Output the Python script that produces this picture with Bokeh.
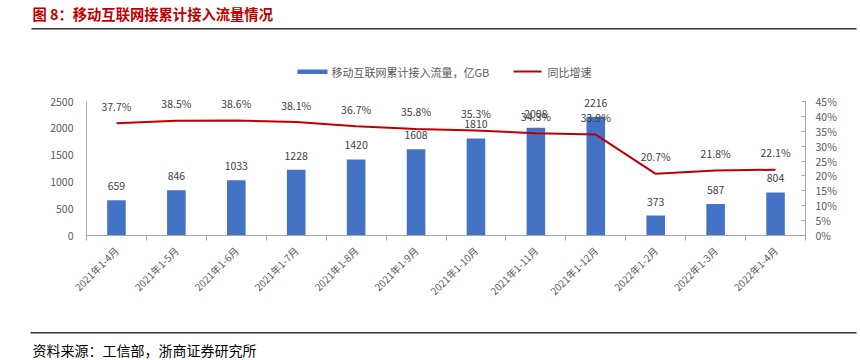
import numpy as np
from bokeh.plotting import figure
from bokeh.layouts import column
from bokeh.models import (Range1d, LinearAxis, FixedTicker, ColumnDataSource, LabelSet, Label,
                          BoxAnnotation)
from bokeh.embed import file_html
from bokeh.resources import INLINE
from bokeh.core.properties import value

# ---------------- data ----------------
categories = ["2021年1-4月", "2021年1-5月", "2021年1-6月", "2021年1-7月", "2021年1-8月",
              "2021年1-9月", "2021年1-10月", "2021年1-11月", "2021年1-12月",
              "2022年1-2月", "2022年1-3月", "2022年1-4月"]
traffic = [659, 846, 1033, 1228, 1420, 1608, 1810, 2008, 2216, 373, 587, 804]
growth = [37.7, 38.5, 38.6, 38.1, 36.7, 35.8, 35.3, 34.3, 33.9, 20.7, 21.8, 22.1]
left_ticks = [0, 500, 1000, 1500, 2000, 2500]
right_ticks = [0, 5, 10, 15, 20, 25, 30, 35, 40, 45]
series_names = ["移动互联网累计接入流量，亿GB", "同比增速"]
title_text = "图  8：移动互联网接累计接入流量情况"
source_text = "资料来源：工信部，浙商证券研究所"

FONT = "Noto Sans CJK SC"
BAR_COLOR = "#4472C4"
LINE_COLOR = "#C00000"
TEXT_GRAY = "#595959"
AXIS_GRAY = "#A6A6A6"
RULE_COLOR = "#333333"

W = 860
HEAD_H, MAIN_H, FOOT_H = 36, 290, 34
# page positions of the main chart's axes
IL, IR, IT, IB = 86, 805, 101, 235
FRAME_TOP = HEAD_H                 # main frame starts right under the header
FRAME_H = IB - FRAME_TOP           # frame height in px
AXIS_H = IB - IT                   # height used by the axis scale


def plain(height, y0):
    """figure without axes whose data units are page pixels (y downward)."""
    f = figure(width=W, height=height, output_backend="svg", toolbar_location=None,
               x_range=Range1d(0, W), y_range=Range1d(y0 + height, y0),
               x_axis_type=None, y_axis_type=None,
               min_border_left=0, min_border_right=0, min_border_top=0, min_border_bottom=0)
    f.outline_line_color = None
    f.frame_align = False
    return f


# ---------------- header: title + rule ----------------
head = plain(HEAD_H, 0)
head.add_layout(Label(x=32, y=13, text=title_text, text_font=FONT, text_font_size="14.3px",
                      text_font_style="bold", text_color="#C00000", text_baseline="middle"))
head.add_layout(BoxAnnotation(left=31, right=856, top=27.5, bottom=29, fill_color=RULE_COLOR,
                              fill_alpha=1, line_color=None))

# ---------------- main chart ----------------
y_top = left_ticks[-1] * FRAME_H / AXIS_H
r_top = right_ticks[-1] * FRAME_H / AXIS_H

p = figure(width=W, height=MAIN_H, output_backend="svg", toolbar_location=None,
           x_range=Range1d(0, len(categories)), y_range=Range1d(left_ticks[0], y_top),
           x_axis_type=None, y_axis_type=None,
           min_border_left=IL, min_border_right=W - IR, min_border_top=0,
           min_border_bottom=MAIN_H - FRAME_H)
p.outline_line_color = None
p.frame_align = False
p.extra_y_ranges = {"pct": Range1d(right_ticks[0], r_top)}

xs = [i + 0.5 for i in range(len(categories))]

xaxis = LinearAxis(ticker=FixedTicker(ticks=xs, minor_ticks=list(range(len(categories) + 1))),
                   major_label_overrides={x: c for x, c in zip(xs, categories)})
xaxis.major_label_orientation = np.pi / 4
xaxis.major_tick_in = 0
xaxis.major_tick_out = 0
xaxis.minor_tick_in = 0
xaxis.minor_tick_out = 5
xaxis.minor_tick_line_color = AXIS_GRAY
xaxis.axis_line_color = AXIS_GRAY
xaxis.major_label_text_font = FONT
xaxis.major_label_text_font_size = "10px"
xaxis.major_label_text_color = TEXT_GRAY
xaxis.major_label_standoff = 8
p.add_layout(xaxis, "below")

yaxis = LinearAxis(ticker=FixedTicker(ticks=left_ticks), bounds=(left_ticks[0], left_ticks[-1]))
yaxis.major_tick_in = 0
yaxis.major_tick_out = 0
yaxis.minor_tick_line_color = None
yaxis.axis_line_color = AXIS_GRAY
yaxis.major_label_text_font = FONT
yaxis.major_label_text_font_size = "10.5px"
yaxis.major_label_text_color = TEXT_GRAY
yaxis.major_label_standoff = 13
p.add_layout(yaxis, "left")

raxis = LinearAxis(y_range_name="pct", ticker=FixedTicker(ticks=right_ticks),
                   bounds=(right_ticks[0], right_ticks[-1]),
                   major_label_overrides={t: f"{t}%" for t in right_ticks})
raxis.major_tick_in = 4
raxis.major_tick_out = 0
raxis.major_tick_line_color = AXIS_GRAY
raxis.minor_tick_line_color = None
raxis.axis_line_color = AXIS_GRAY
raxis.major_label_text_font = FONT
raxis.major_label_text_font_size = "10.5px"
raxis.major_label_text_color = TEXT_GRAY
raxis.major_label_standoff = 10
p.add_layout(raxis, "right")

src = ColumnDataSource(dict(x=xs, traffic=traffic, growth=growth,
                            tl=[str(v) for v in traffic], gl=[f"{v}%" for v in growth]))

bars = p.vbar(x="x", top="traffic", width=0.31, source=src, fill_color=BAR_COLOR, line_color=None)
line = p.line(x="x", y="growth", source=src, y_range_name="pct", line_color=LINE_COLOR, line_width=2)

p.add_layout(LabelSet(x="x", y="traffic", text="tl", source=src, text_align="center",
                      text_baseline="middle", y_offset=14, text_font=value(FONT),
                      text_font_size="10.5px", text_color="#404040"))
p.add_layout(LabelSet(x="x", y="growth", text="gl", source=src, y_range_name="pct",
                      text_align="center", text_baseline="middle", y_offset=17,
                      text_font=value(FONT), text_font_size="10.5px", text_color="#404040"))


def fx(px):
    # screen units are measured from the frame's left edge ...
    return px - IL


def fy(py):
    # ... and upward from the frame's bottom edge
    return IB - py


def sbox(l, r, t, b, color):
    return BoxAnnotation(left=fx(l), right=fx(r), top=fy(t), bottom=fy(b),
                         left_units="screen", right_units="screen", top_units="screen",
                         bottom_units="screen", fill_color=color, fill_alpha=1, line_color=None)


def slabel(x, y, text):
    return Label(x=fx(x), y=fy(y), x_units="screen", y_units="screen", text=text,
                 text_font=FONT, text_font_size="11px", text_color=TEXT_GRAY,
                 text_baseline="middle")


# legend swatches and labels
p.add_layout(sbox(297, 327, 69, 73.5, BAR_COLOR))
p.add_layout(slabel(331, 71, series_names[0]))
p.add_layout(sbox(513, 541, 70, 72, LINE_COLOR))
p.add_layout(slabel(547, 71, series_names[1]))

# ---------------- footer: rule + source ----------------
y_foot = HEAD_H + MAIN_H
foot = plain(FOOT_H, y_foot)
foot.add_layout(BoxAnnotation(left=30, right=856, top=331.5, bottom=333, fill_color=RULE_COLOR,
                              fill_alpha=1, line_color=None))
foot.add_layout(Label(x=32, y=349, text=source_text, text_font=FONT, text_font_size="14px",
                      text_color="#000000", text_baseline="middle"))

layout = column(head, p, foot, spacing=0)
open("out.html", "w").write(file_html(layout, INLINE))
